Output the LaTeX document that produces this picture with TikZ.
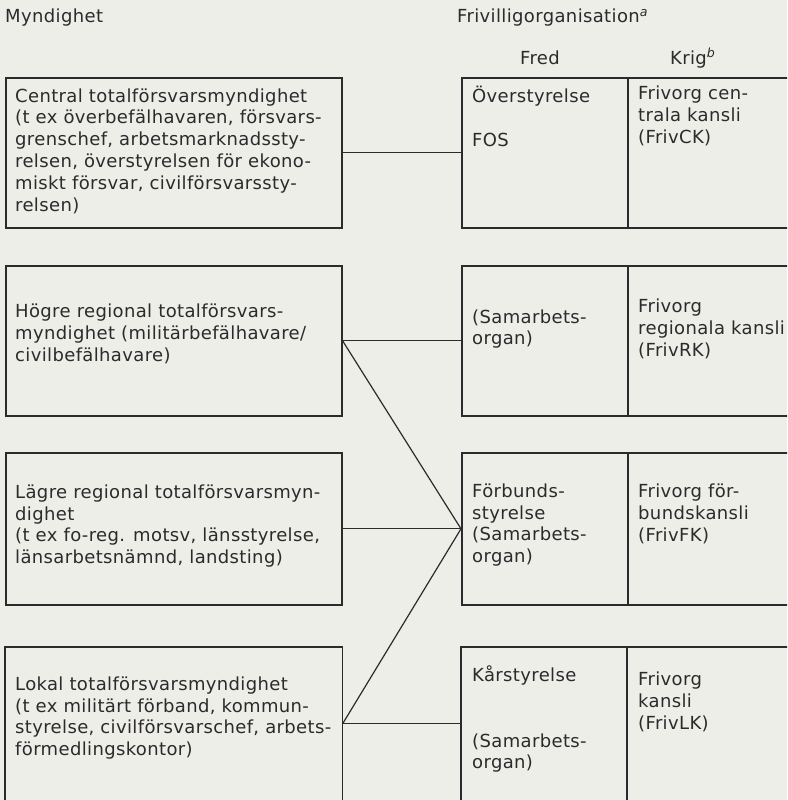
\documentclass[tikz,border=0pt]{standalone}
\usepackage{fontspec}
\setmainfont[LetterSpace=2.0]{DejaVu Sans}
\definecolor{paper}{RGB}{238,238,232}
\definecolor{ink}{RGB}{45,42,45}
\begin{document}
\begin{tikzpicture}[x=1pt,y=-1pt,
  every node/.style={font=\fontsize{18}{21.8}\selectfont, text=ink},
  lbox/.style={draw=ink, line width=1.6pt, anchor=north west, minimum width=336pt, minimum height=150pt, inner sep=0pt},
  fcell/.style={draw=ink, line width=1.6pt, anchor=north west, minimum width=166pt, minimum height=150pt, inner sep=0pt},
  kcell/.style={draw=ink, line width=1.6pt, anchor=north west, minimum width=190pt, minimum height=150pt, inner sep=0pt},
  openbox/.style={draw=ink, line width=1.6pt},
  txt/.style={anchor=west, align=left, inner sep=0pt},
  conn/.style={draw=ink, line width=1.2pt}
]
\fill[paper] (0,0) rectangle (787,800);
\useasboundingbox (0,0) rectangle (787,800);
\clip (0,0) rectangle (787,800);

% headers
\node[txt] (hmynd) at (5,18) {Myndighet};
\node[txt] (hfriv) at (457,18) {Frivilligorganisation\textsuperscript{\itshape a}};
\node[txt] (hfred) at (520,58) {Fred};
\node[txt] (hkrig) at (670,58) {Krig\textsuperscript{\itshape b}};

% left boxes
\node[lbox] (L1) at (5,77) {};
\node[lbox] (L2) at (5,265) {};
\node[lbox, minimum height=152pt] (L3) at (5,452) {};
\node[lbox, minimum height=152pt, draw=none] (L4) at (5,647) {};
\draw[openbox] ([yshift=-6pt]L4.south west) -- (L4.north west) -- (L4.north east) -- ([yshift=-6pt]L4.south east);

% right boxes
\node[fcell] (F1) at (461,77) {};
\node[kcell] (K1) at (627,77) {};
\node[fcell] (F2) at (461,265) {};
\node[kcell] (K2) at (627,265) {};
\node[fcell, minimum height=152pt] (F3) at (461,452) {};
\node[kcell, minimum height=152pt] (K3) at (627,452) {};
\node[fcell, minimum height=152pt, draw=none] (F4) at (461,647) {};
\node[kcell, minimum height=152pt, draw=none] (K4) at (627,647) {};
\draw[openbox] ([yshift=-6pt]F4.south west) -- (F4.north west) -- (K4.north east);
\draw[openbox] (K4.north west) -- ([yshift=-6pt]K4.south west);

% left texts
\node[txt] (t1) at (15,151) {Central totalförsvarsmyndighet\\(t ex överbefälhavaren, försvars-\\grenschef, arbetsmarknadssty-\\relsen, överstyrelsen för ekono-\\miskt försvar, civilförsvarssty-\\relsen)};
\node[txt] (t2) at (15,334) {Högre regional totalförsvars-\\myndighet (militärbefälhavare/\\civilbefälhavare)};
\node[txt] (t3) at (15,526) {Lägre regional totalförsvarsmyn-\\dighet\\(t ex fo-reg. motsv, länsstyrelse,\\länsarbetsnämnd, landsting)};
\node[txt] (t4) at (15,718) {Lokal totalförsvarsmyndighet\\(t ex militärt förband, kommun-\\styrelse, civilförsvarschef, arbets-\\förmedlingskontor)};

% right texts
\node[txt] (f1a) at (472,96) {Överstyrelse};
\node[txt] (f1b) at (472,140) {FOS};
\node[txt] (k1) at (638,116) {Frivorg cen-\\trala kansli\\(FrivCK)};
\node[txt] (f2) at (472,329) {(Samarbets-\\organ)};
\node[txt] (k2) at (638,329) {Frivorg\\regionala kansli\\(FrivRK)};
\node[txt] (f3) at (472,525) {Förbunds-\\styrelse\\(Samarbets-\\organ)};
\node[txt] (k3) at (638,514) {Frivorg för-\\bundskansli\\(FrivFK)};
\node[txt] (f4a) at (472,675) {Kårstyrelse};
\node[txt] (f4b) at (472,753) {(Samarbets-\\organ)};
\node[txt] (k4) at (638,702) {Frivorg\\kansli\\(FrivLK)};

% connectors
\draw[conn] (L1.east) -- (F1.west);
\draw[conn] (L2.east) -- (F2.west);
\draw[conn] (L2.east) -- (F3.west);
\draw[conn] (L3.east) -- (F3.west);
\draw[conn] (L4.east) -- (F3.west);
\draw[conn] (L4.east) -- (F4.west);
\end{tikzpicture}
\end{document}
